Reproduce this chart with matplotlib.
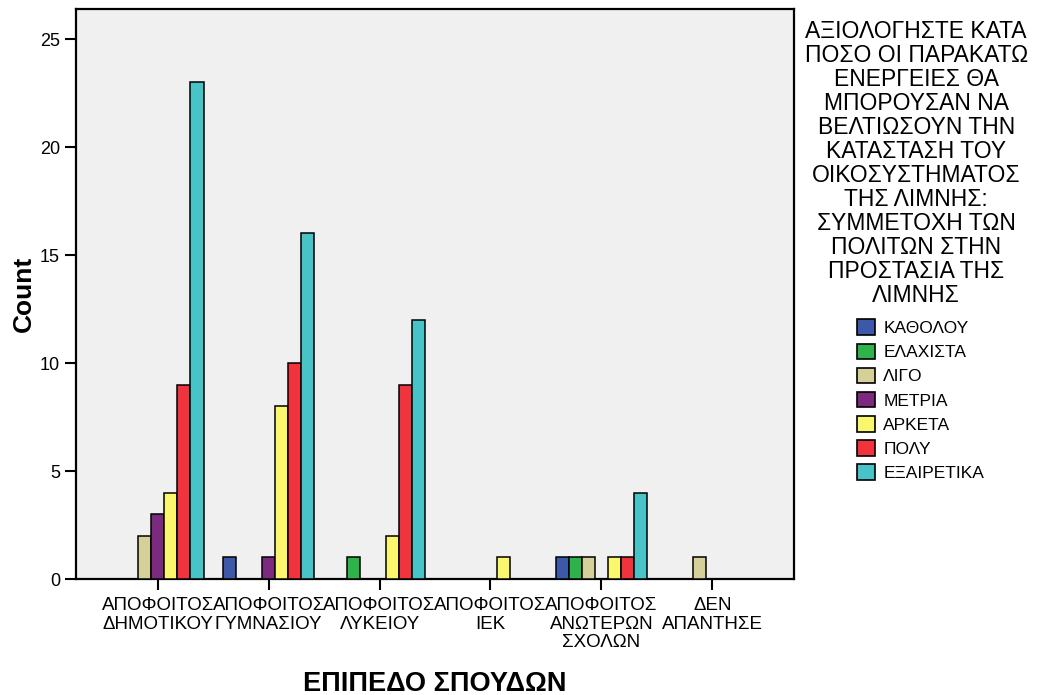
import numpy as np
import matplotlib
matplotlib.use("Agg")
from matplotlib import pyplot as plt
from matplotlib.patches import Patch

plt.rcParams['font.family'] = ['Liberation Sans', 'DejaVu Sans']

categories = ["ΑΠΟΦΟΙΤΟΣ\nΔΗΜΟΤΙΚΟΥ", "ΑΠΟΦΟΙΤΟΣ\nΓΥΜΝΑΣΙΟΥ", "ΑΠΟΦΟΙΤΟΣ\nΛΥΚΕΙΟΥ",
              "ΑΠΟΦΟΙΤΟΣ\nΙΕΚ", "ΑΠΟΦΟΙΤΟΣ\nΑΝΩΤΕΡΩΝ\nΣΧΟΛΩΝ", "ΔΕΝ\nΑΠΑΝΤΗΣΕ"]
series = ["ΚΑΘΟΛΟΥ", "ΕΛΑΧΙΣΤΑ", "ΛΙΓΟ", "ΜΕΤΡΙΑ", "ΑΡΚΕΤΑ", "ΠΟΛΥ", "ΕΞΑΙΡΕΤΙΚΑ"]
katholou =   [0, 1, 0, 0, 1, 0]
elaxista =   [0, 0, 1, 0, 1, 0]
ligo =       [2, 0, 0, 0, 1, 1]
metria =     [3, 1, 0, 0, 0, 0]
arketa =     [4, 8, 2, 1, 1, 0]
poly =       [9, 10, 9, 0, 1, 0]
exairetika = [23, 16, 12, 0, 4, 0]
values = [katholou, elaxista, ligo, metria, arketa, poly, exairetika]
colors = ["#3D58A8", "#2DB34A", "#D5CF98", "#7B2A7F", "#FAF76E", "#F0333C", "#48C4C8"]
legend_title = ("ΑΞΙΟΛΟΓΗΣΤΕ ΚΑΤΑ\nΠΟΣΟ ΟΙ ΠΑΡΑΚΑΤΩ\nΕΝΕΡΓΕΙΕΣ ΘΑ\nΜΠΟΡΟΥΣΑΝ ΝΑ\n"
                "ΒΕΛΤΙΩΣΟΥΝ ΤΗΝ\nΚΑΤΑΣΤΑΣΗ ΤΟΥ\nΟΙΚΟΣΥΣΤΗΜΑΤΟΣ\nΤΗΣ ΛΙΜΝΗΣ:\n"
                "ΣΥΜΜΕΤΟΧΗ ΤΩΝ\nΠΟΛΙΤΩΝ ΣΤΗΝ\nΠΡΟΣΤΑΣΙΑ ΤΗΣ\nΛΙΜΝΗΣ")

fig = plt.figure(figsize=(10.4, 6.95), dpi=100)
ax = fig.add_axes([0.0731, 0.1669, 0.6904, 0.8201])
ax.set_facecolor("#F0F0F0")

x = np.arange(len(categories))
w = 0.118
for i, (name, vals, c) in enumerate(zip(series, values, colors)):
    vals = np.array(vals)
    keep = vals > 0
    ax.bar(x[keep] + (i - 3) * w, vals[keep], width=w, color=c,
           edgecolor="black", linewidth=1.1, label=name, zorder=3)

ax.set_xlim(-0.737, 5.737)
ax.set_ylim(0, 26.39)
ax.set_yticks([0, 5, 10, 15, 20, 25])
ax.set_xticks(x)
ax.set_xticklabels(categories, fontsize=13.5, linespacing=1.12)
ax.tick_params(axis='both', direction='out', length=8, width=1.5, labelsize=13)
ax.tick_params(axis='x', labelsize=13.5, pad=5)
for s in ax.spines.values():
    s.set_linewidth(1.6)

ax.set_xlabel("ΕΠΙΠΕΔΟ ΣΠΟΥΔΩΝ", fontsize=19.5, fontweight='bold', labelpad=14)
ax.set_ylabel("Count", fontsize=19, fontweight='bold', labelpad=3)

fig.text(0.881, 0.971, legend_title, ha='center', va='top', fontsize=16.5,
         linespacing=1.055)
handles = [Patch(facecolor=c, edgecolor='black', linewidth=1.2) for c in colors]
fig.legend(handles, series, loc='upper left', bbox_to_anchor=(0.816, 0.553),
           frameon=False, fontsize=12.5, handlelength=1.0, handleheight=1.0,
           handletextpad=0.5, labelspacing=0.43, borderpad=0)

fig.savefig("out.png", dpi=100)
